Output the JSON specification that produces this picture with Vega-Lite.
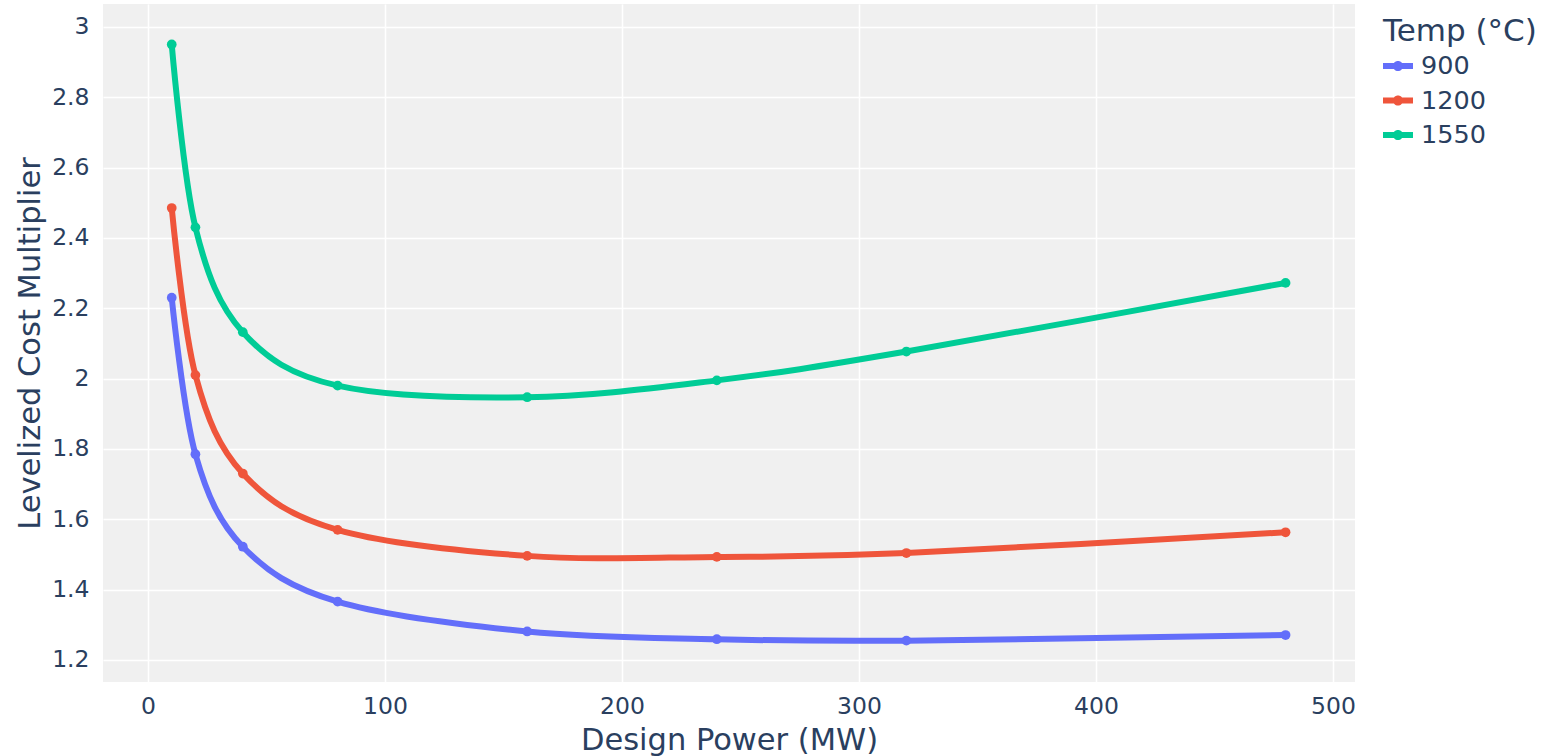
{
  "$schema": "https://vega.github.io/schema/vega-lite/v6.json",
  "width": 1252,
  "height": 678,
  "autosize": {"type": "none"},
  "padding": {"left": 103, "top": 4, "right": 200, "bottom": 74},
  "background": "white",
  "config": {
    "font": "DejaVu Sans",
    "view": {"fill": "#f0f0f0", "stroke": null},
    "axis": {"labelColor": "#2a3f5f", "titleColor": "#2a3f5f", "gridColor": "white", "gridWidth": 1.5, "domain": false, "ticks": false, "labelFont": "DejaVu Sans", "titleFont": "DejaVu Sans", "titleFontWeight": "normal"},
    "legend": {"labelColor": "#2a3f5f", "titleColor": "#2a3f5f", "labelFont": "DejaVu Sans", "titleFont": "DejaVu Sans", "titleFontWeight": "normal"}
  },
  "data": {
    "values": [
      {"power": 10, "temp": "900", "cost": 2.23},
      {"power": 20, "temp": "900", "cost": 1.785},
      {"power": 40, "temp": "900", "cost": 1.522},
      {"power": 80, "temp": "900", "cost": 1.366},
      {"power": 160, "temp": "900", "cost": 1.281},
      {"power": 240, "temp": "900", "cost": 1.259},
      {"power": 320, "temp": "900", "cost": 1.255},
      {"power": 480, "temp": "900", "cost": 1.271},
      {"power": 10, "temp": "1200", "cost": 2.485},
      {"power": 20, "temp": "1200", "cost": 2.01},
      {"power": 40, "temp": "1200", "cost": 1.73},
      {"power": 80, "temp": "1200", "cost": 1.57},
      {"power": 160, "temp": "1200", "cost": 1.496},
      {"power": 240, "temp": "1200", "cost": 1.493},
      {"power": 320, "temp": "1200", "cost": 1.504},
      {"power": 480, "temp": "1200", "cost": 1.563},
      {"power": 10, "temp": "1550", "cost": 2.95},
      {"power": 20, "temp": "1550", "cost": 2.43},
      {"power": 40, "temp": "1550", "cost": 2.132},
      {"power": 80, "temp": "1550", "cost": 1.98},
      {"power": 160, "temp": "1550", "cost": 1.947},
      {"power": 240, "temp": "1550", "cost": 1.995},
      {"power": 320, "temp": "1550", "cost": 2.077},
      {"power": 480, "temp": "1550", "cost": 2.272}
    ]
  },
  "encoding": {
    "x": {
      "field": "power", "type": "quantitative",
      "scale": {"domain": [-19, 509.3], "nice": false, "zero": false},
      "axis": {"title": "Design Power (MW)", "values": [0, 100, 200, 300, 400, 500], "labelFontSize": 23.5, "labelPadding": 12, "titleFontSize": 30.5, "titlePadding": 8}
    },
    "y": {
      "field": "cost", "type": "quantitative",
      "scale": {"domain": [1.1374, 3.065], "nice": false, "zero": false},
      "axis": {"title": "Levelized Cost Multiplier", "values": [1.2, 1.4, 1.6, 1.8, 2, 2.2, 2.4, 2.6, 2.8, 3], "format": ".2~f", "labelFontSize": 23.5, "labelPadding": 14, "titleFontSize": 30.5, "titlePadding": 6}
    },
    "color": {
      "field": "temp", "type": "nominal",
      "sort": ["900", "1200", "1550"],
      "scale": {"domain": ["900", "1200", "1550"], "range": ["#636efa", "#EF553B", "#00cc96"]},
      "legend": {
        "title": "Temp (°C)", "orient": "none", "legendX": 1280, "legendY": 13,
        "titleFontSize": 31, "labelFontSize": 25.5,
        "symbolType": "M-1,-0.2H1V0.2H-1Z M-0.34,0 A0.34,0.34 0 1 1 0.34,0 A0.34,0.34 0 1 1 -0.34,0Z",
        "symbolStrokeWidth": 0, "symbolSize": 900,
        "rowPadding": 5.5, "titlePadding": 3, "labelOffset": 8,
        "encode": {"symbols": {"update": {"fill": {"scale": "color", "field": "value"}, "strokeWidth": {"value": 0}, "opacity": {"value": 1}}}}
      }
    }
  },
  "layer": [
    {"mark": {"type": "line", "interpolate": "cardinal", "strokeWidth": 6}},
    {"mark": {"type": "circle", "size": 95, "opacity": 1}}
  ]
}
